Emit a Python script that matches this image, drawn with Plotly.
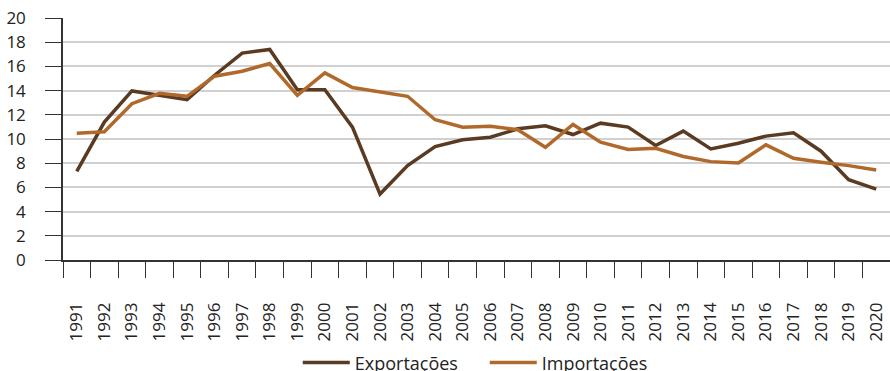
import plotly.graph_objects as go

years = [str(y) for y in range(1991, 2021)]
exportacoes = [7.33, 11.4, 13.97, 13.6, 13.25, 15.27, 17.1, 17.4, 14.08, 14.08,
               10.98, 5.45, 7.8, 9.38, 9.93, 10.15, 10.84, 11.09, 10.37, 11.31,
               10.98, 9.46, 10.65, 9.18, 9.65, 10.24, 10.51, 8.99, 6.64, 5.86]
importacoes = [10.48, 10.6, 12.92, 13.78, 13.53, 15.19, 15.6, 16.24, 13.6, 15.46,
               14.25, 13.89, 13.53, 11.59, 10.98, 11.06, 10.76, 9.32, 11.2, 9.74,
               9.13, 9.24, 8.55, 8.13, 8.02, 9.52, 8.41, 8.08, 7.8, 7.44]
y_ticks = [0, 2, 4, 6, 8, 10, 12, 14, 16, 18, 20]

FONT = "Open Sans"
TXT = "#222222"

fig = go.Figure()
fig.add_trace(go.Scatter(x=years, y=exportacoes, mode="lines", name="Exportações",
                         line=dict(color="#5a3b22", width=3.5)))
fig.add_trace(go.Scatter(x=years, y=importacoes, mode="lines", name="Importações",
                         line=dict(color="#b0692a", width=3.5)))

fig.update_layout(
    width=890, height=371,
    margin=dict(l=63, r=0, t=18, b=111, autoexpand=False),
    paper_bgcolor="white", plot_bgcolor="white",
    font=dict(family=FONT, size=17, color=TXT),
    showlegend=True,
    legend=dict(orientation="h", x=0.51, xanchor="center", y=-0.425, yanchor="middle",
                font=dict(family=FONT, size=18, color=TXT),
                itemwidth=47, entrywidth=125, tracegroupgap=0),
)
fig.update_xaxes(
    type="category", range=[-0.5, 29.5], automargin=False,
    tickson="boundaries", ticks="outside", ticklen=16, tickwidth=1, tickcolor="#333333",
    tickangle=-90, ticklabelstandoff=34,
    showline=True, linecolor="#333333", linewidth=1.5,
    showgrid=False, zeroline=False,
    tickfont=dict(family=FONT, size=17, color=TXT),
)
fig.update_yaxes(
    range=[0, 20], tickvals=y_ticks, automargin=False,
    ticks="outside", ticklen=16, tickwidth=1, tickcolor="#333333",
    ticklabelstandoff=16,
    showline=True, linecolor="#333333", linewidth=1.5,
    showgrid=True, gridcolor="#d0d0d0", gridwidth=1.5,
    zeroline=False,
    tickfont=dict(family=FONT, size=17, color=TXT),
)

fig.write_html("out.html")
